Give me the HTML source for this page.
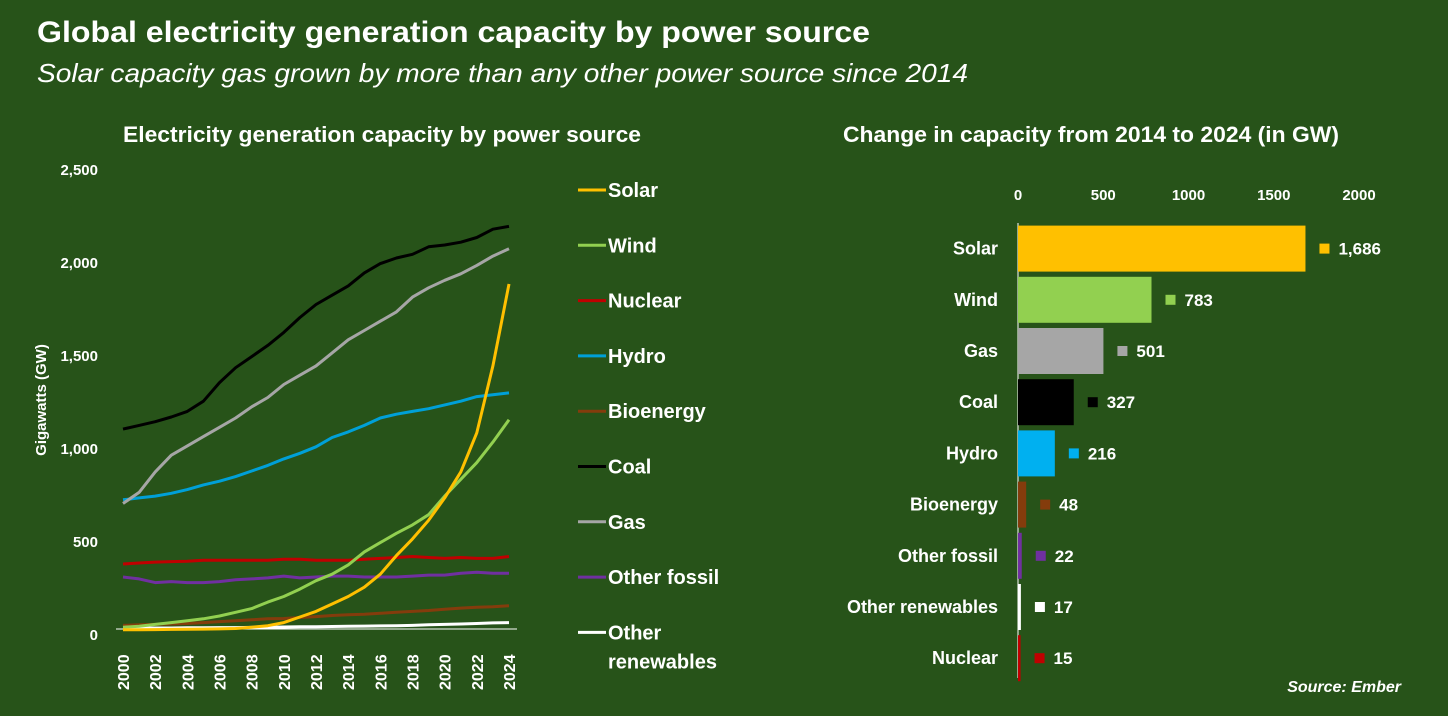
<!DOCTYPE html>
<html><head><meta charset="utf-8"><style>
html,body{margin:0;padding:0;background:#275319;}
svg{display:block;font-family:"Liberation Sans Narrow","Liberation Sans",sans-serif;}
</style></head><body>
<svg id="root" width="1448" height="716" viewBox="0 0 1448 716" xmlns="http://www.w3.org/2000/svg">
<rect width="1448" height="716" fill="#275319"/>
<text x="37" y="42" fill="#fff" font-weight="bold" font-size="30" textLength="833" lengthAdjust="spacingAndGlyphs">Global electricity generation capacity by power source</text>
<text x="37" y="82" fill="#fff" font-style="italic" font-size="26" textLength="931" lengthAdjust="spacingAndGlyphs">Solar capacity gas grown by more than any other power source since 2014</text>
<text x="123" y="142" fill="#fff" font-weight="bold" font-size="22" textLength="518" lengthAdjust="spacingAndGlyphs">Electricity generation capacity by power source</text>
<text x="843" y="142" fill="#fff" font-weight="bold" font-size="22" textLength="496" lengthAdjust="spacingAndGlyphs">Change in capacity from 2014 to 2024 (in GW)</text>
<text transform="translate(46,400) rotate(-90)" text-anchor="middle" fill="#fff" font-weight="bold" font-size="15">Gigawatts (GW)</text>
<g id="line-chart"></g>
<g id="legend"></g>
<g id="bar-chart"></g>
<text x="1401" y="692" text-anchor="end" fill="#fff" font-weight="bold" font-style="italic" font-size="16">Source: Ember</text>
</svg>
<script>
const years = [2000,2001,2002,2003,2004,2005,2006,2007,2008,2009,2010,2011,2012,2013,2014,2015,2016,2017,2018,2019,2020,2021,2022,2023,2024];
const yTicks = [0,500,1000,1500,2000,2500];
const yTickLabels = ["0","500","1,000","1,500","2,000","2,500"];
const coal = [1080,1100,1120,1145,1175,1230,1330,1410,1470,1530,1600,1680,1750,1800,1850,1920,1970,2000,2020,2060,2070,2085,2110,2155,2170];
const gas = [680,740,850,940,990,1040,1090,1140,1200,1250,1320,1370,1420,1490,1560,1610,1660,1710,1790,1840,1880,1915,1960,2010,2050];
const hydro = [700,710,720,735,755,780,800,825,855,885,920,950,985,1035,1065,1100,1140,1160,1175,1190,1210,1230,1255,1265,1275];
const wind = [15,20,30,40,50,60,75,95,115,150,180,220,265,300,350,420,470,520,565,620,720,810,900,1010,1130];
const solar = [1,1,2,3,4,5,6,8,15,23,40,70,100,140,180,230,300,400,490,590,710,850,1060,1420,1860];
const nuclear = [355,360,365,368,370,375,375,375,375,375,380,380,375,375,375,380,385,390,395,390,385,390,385,385,395];
const otherFossil = [285,275,255,260,255,255,260,270,275,280,290,280,285,290,290,285,285,285,290,295,295,305,310,305,305];
const bioenergy = [25,28,30,32,35,40,45,50,55,60,62,67,72,78,82,85,90,95,100,105,112,118,122,125,130];
const otherRenew = [10,10,11,11,12,12,13,13,14,15,16,17,18,19,20,21,22,23,25,28,30,32,35,38,40];

const legendNames = ["Solar","Wind","Nuclear","Hydro","Bioenergy","Coal","Gas","Other fossil","Other renewables"];
const barCategories = ["Solar","Wind","Gas","Coal","Hydro","Bioenergy","Other fossil","Other renewables","Nuclear"];
const barValues = [1686,783,501,327,216,48,22,17,15];
const barLabels = ["1,686","783","501","327","216","48","22","17","15"];
const xBarTicks = [0,500,1000,1500,2000];

const NS="http://www.w3.org/2000/svg";
function mk(tag, attrs, parent){const e=document.createElementNS(NS,tag);for(const k in attrs)e.setAttribute(k,attrs[k]);parent.appendChild(e);return e;}
const colors={"Solar":"#ffc000","Wind":"#92d050","Nuclear":"#c00000","Hydro":"#00a0d8","Bioenergy":"#843c0c","Coal":"#000000","Gas":"#a6a6a6","Other fossil":"#7030a0","Other renewables":"#ffffff"};
const barColors={"Solar":"#ffc000","Wind":"#92d050","Nuclear":"#c00000","Hydro":"#00b0f0","Bioenergy":"#843c0c","Coal":"#000000","Gas":"#a6a6a6","Other fossil":"#7030a0","Other renewables":"#ffffff"};

const x0=123,x1=509,yBase=630,yScale=0.186;
const xPos=yr=>x0+(yr-years[0])*(x1-x0)/(years[years.length-1]-years[0]);
const yPos=v=>yBase-v*yScale;
const lc=document.getElementById('line-chart');
yTicks.forEach((t,i)=>{
  const el=mk('text',{x:98,y:yPos(t)+10,'text-anchor':'end',fill:'#fff','font-weight':'bold','font-size':'15'},lc);
  el.textContent=yTickLabels[i];
  
  
});
const ax=mk('line',{x1:116,x2:517,y1:yBase-1,y2:yBase-1,stroke:'#fff','stroke-width':'1'},lc);


years.forEach(yr=>{
  if(yr%2) return;
  const el=mk('text',{transform:`translate(${xPos(yr)+6},690) rotate(-90)`,fill:'#fff','font-weight':'bold','font-size':'16'},lc);
  el.textContent=yr;
  
  
});
const seriesOrder=[["Other renewables",otherRenew],["Bioenergy",bioenergy],["Other fossil",otherFossil],["Nuclear",nuclear],["Wind",wind],["Hydro",hydro],["Gas",gas],["Coal",coal],["Solar",solar]];
seriesOrder.forEach(([name,vals])=>{
  const d=vals.map((v,i)=>(i?'L':'M')+xPos(years[i]).toFixed(1)+','+yPos(v).toFixed(1)).join(' ');
  const p=mk('path',{d:d,fill:'none',stroke:colors[name],'stroke-width':'3','stroke-linejoin':'round'},lc);
  
  
});
const lg=document.getElementById('legend');
legendNames.forEach((n,i)=>{
  const y=190+i*55.3;
  const l=mk('line',{x1:578,x2:606,y1:y,y2:y,stroke:colors[n],'stroke-width':'3'},lg);
  
  
  if(n==="Other renewables"){
    const t=mk('text',{x:608,y:y+7,fill:'#fff','font-weight':'bold','font-size':'20'},lg);
    t.textContent="Other";
    
    
    const t2=mk('text',{x:608,y:y+36,fill:'#fff','font-weight':'bold','font-size':'20'},lg);
    t2.textContent="renewables";
    
    
  } else {
    const t=mk('text',{x:608,y:y+7,fill:'#fff','font-weight':'bold','font-size':'20'},lg);
    t.textContent=n;
    
    
  }
});
const bx0=1018,bScale=341/2000,rowTop=221,rowH=51.2,barH=46;
const bX=v=>bx0+v*bScale;
const bc=document.getElementById('bar-chart');
xBarTicks.forEach(t=>{
  const el=mk('text',{x:bX(t),y:200,'text-anchor':'middle',fill:'#fff','font-weight':'bold','font-size':'15'},bc);
  el.textContent=t;
  
  
});
const bax=mk('line',{x1:bx0,x2:bx0,y1:223,y2:678,stroke:'#fff','stroke-width':'1'},bc);


barCategories.forEach((c,i)=>{
  const yc=rowTop+rowH*i+rowH/2+2;
  const w=Math.max(bX(barValues[i])-bx0,2);
  const r=mk('rect',{x:bx0,y:yc-barH/2,width:w,height:barH,fill:barColors[c]},bc);
  
  
  const lab=mk('text',{x:998,y:yc+6,'text-anchor':'end',fill:'#fff','font-weight':'bold','font-size':'18'},bc);
  lab.textContent=c;
  
  
  const sx=bX(barValues[i])+14;
  const sq=mk('rect',{x:sx,y:yc-5,width:10,height:10,fill:barColors[c]},bc);
  
  
  const v=mk('text',{x:sx+19,y:yc+6,fill:'#fff','font-weight':'bold','font-size':'17'},bc);
  v.textContent=barLabels[i];
  
  
});
</script>
</body></html>
